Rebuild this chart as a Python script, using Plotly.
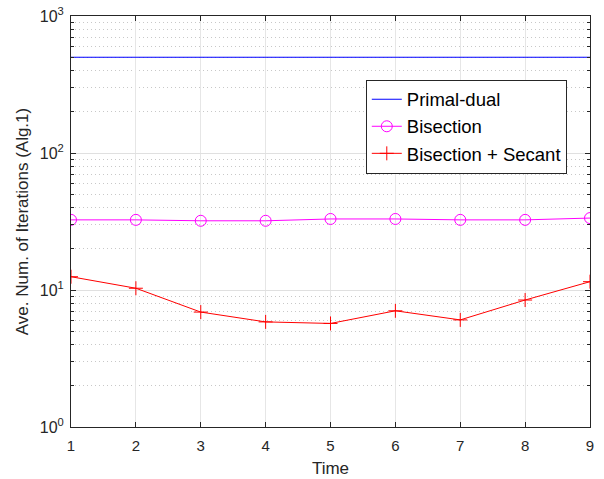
import plotly.graph_objects as go

time = [1, 2, 3, 4, 5, 6, 7, 8, 9]
primal_dual = [500, 500, 500, 500, 500, 500, 500, 500, 500]
bisection = [32.5, 32.5, 32.0, 32.0, 33.0, 33.0, 32.5, 32.5, 33.5]
bisection_secant = [12.5, 10.3, 6.9, 5.85, 5.7, 7.05, 6.05, 8.45, 11.5]

y_tickvals = [1, 10, 100, 1000]
y_ticktext = ["10<sup>0</sup>", "10<sup>1</sup>", "10<sup>2</sup>", "10<sup>3</sup>"]

fig = go.Figure()
fig.add_trace(go.Scatter(x=time, y=primal_dual, mode="lines", name="Primal-dual",
                         line=dict(color="#0000FF", width=1.1)))
fig.add_trace(go.Scatter(x=time, y=bisection, mode="lines+markers", name="Bisection",
                         line=dict(color="#FF00FF", width=1),
                         marker=dict(symbol="circle-open", size=11, color="#FF00FF",
                                     line=dict(width=1))))
fig.add_trace(go.Scatter(x=time, y=bisection_secant, mode="lines+markers", name="Bisection + Secant",
                         line=dict(color="#FF0000", width=1),
                         marker=dict(symbol="cross-thin-open", size=10, color="#FF0000",
                                     line=dict(width=1, color="#FF0000"))))

fig.update_layout(
    width=604, height=479,
    margin=dict(l=71, r=14, t=16, b=52),
    paper_bgcolor="white", plot_bgcolor="white",
    font=dict(family="Arial, Liberation Sans, sans-serif", size=15, color="#262626"),
    showlegend=True,
    legend=dict(x=0.568, y=0.845, xanchor="left", yanchor="top",
                bordercolor="#262626", borderwidth=1, bgcolor="white",
                font=dict(size=18.5, color="#000000"), tracegroupgap=0,
                itemwidth=30),
)
fig.update_xaxes(
    title=dict(text="Time", font=dict(size=17), standoff=9),
    range=[1, 9], tickvals=time, ticks="inside", ticklen=5, tickcolor="#262626",
    showline=True, linecolor="#262626", linewidth=1, mirror="ticks",
    showgrid=True, gridcolor="#E6E6E6", gridwidth=1, zeroline=False,
    tickfont=dict(size=15), ticklabelstandoff=5, automargin=False,
)
fig.update_yaxes(
    type="log", range=[0, 3],
    title=dict(text="Ave. Num. of Iterations (Alg.1)", font=dict(size=17), standoff=6),
    tickvals=y_tickvals, ticktext=y_ticktext,
    ticks="inside", ticklen=5, tickcolor="#262626",
    showline=True, linecolor="#262626", linewidth=1, mirror="ticks",
    showgrid=True, gridcolor="#E0E0E0", gridwidth=1, zeroline=False,
    tickfont=dict(size=16), ticklabelstandoff=3, automargin=False,
    minor=dict(ticks="inside", ticklen=3, tickcolor="#262626", showgrid=True,
               gridcolor="#C8C8C8", griddash="1px,3px", gridwidth=1,
               tickvals=[v * d for d in (1, 10, 100) for v in range(2, 10)]),
)

fig.write_html("out.html")
